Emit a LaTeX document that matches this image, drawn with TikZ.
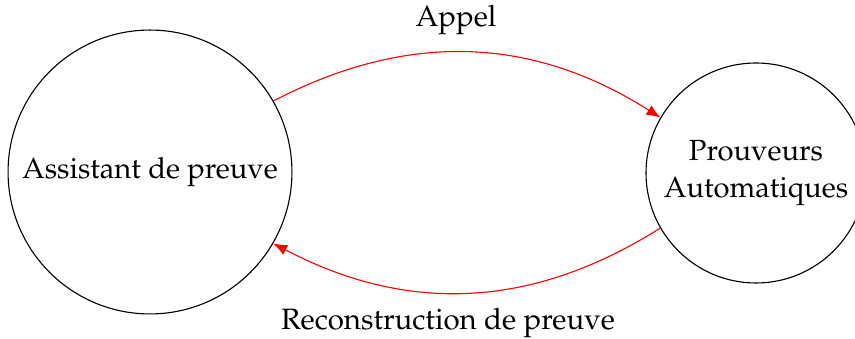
\documentclass[tikz,border=0pt]{standalone}
\usepackage[T1]{fontenc}
\usepackage{mathpazo}
\usetikzlibrary{arrows.meta}
\begin{document}
\begin{tikzpicture}[x=0.36pt,y=-0.36pt,
  state/.style={circle,draw,inner sep=0pt,align=center,font=\fontsize{10.5}{13.5}\selectfont},
  flow/.style={red,-{Latex[length=5pt,width=4pt]}},
  lbl/.style={font=\fontsize{10.6}{14}\selectfont}]
\useasboundingbox (0,0) rectangle (855,339);
\clip (0,0) rectangle (855,339);
\node[state,minimum size=102.2pt] (A) at (150,172) {Assistant de preuve};
\node[state,minimum size=79.2pt] (P) at (756,173) {Prouveurs\\Automatiques};
\draw[flow] (A) to[bend left=30] (P);
\draw[flow] (P) to[bend left=30] (A);
\node[lbl] (t1) at (456,20) {Appel};
\node[lbl] (t2) at (448,323) {Reconstruction de preuve};
\end{tikzpicture}
\end{document}
